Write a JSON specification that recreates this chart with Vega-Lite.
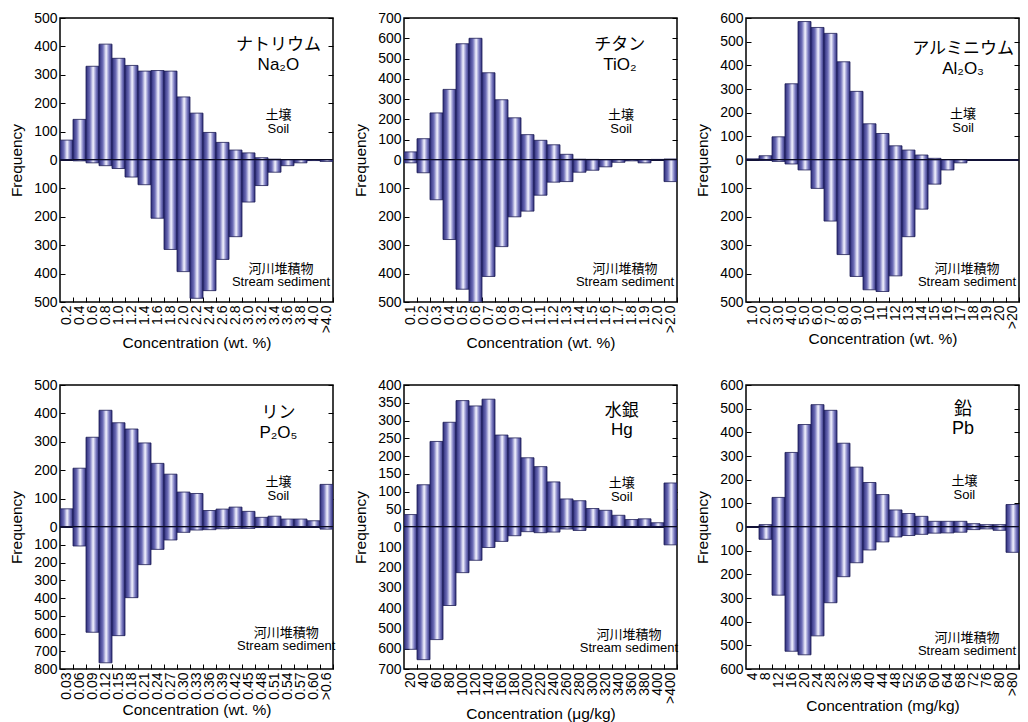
{
"$schema": "https://vega.github.io/schema/vega-lite/v6.json",
"padding": {"left": 8, "top": 10, "right": 0, "bottom": 0},
"config": {
  "font": "Liberation Sans",
  "view": {"stroke": "black", "strokeWidth": 1.5},
  "axis": {"domain": false, "grid": false, "ticks": true, "tickSize": -5, "tickColor": "black", "tickWidth": 1, "labelPadding": 8, "labelFontSize": 14, "labelColor": "black", "labelFont": "Liberation Sans", "titleFont": "Liberation Sans", "titleFontSize": 15.5, "titleFontWeight": "normal", "titleColor": "black", "labelOverlap": false},
  "axisY": {"titlePadding": 9},
  "axisX": {"titlePadding": 3}
},
"datasets": {
  "na": [
    {"bin":"0.2","soil":70,"sed":0},{"bin":"0.4","soil":143,"sed":3},{"bin":"0.6","soil":330,"sed":10},{"bin":"0.8","soil":408,"sed":20},{"bin":"1.0","soil":358,"sed":30},{"bin":"1.2","soil":333,"sed":60},{"bin":"1.4","soil":313,"sed":87},{"bin":"1.6","soil":315,"sed":205},{"bin":"1.8","soil":313,"sed":315},{"bin":"2.0","soil":222,"sed":393},{"bin":"2.2","soil":165,"sed":487},{"bin":"2.4","soil":97,"sed":460},{"bin":"2.6","soil":62,"sed":350},{"bin":"2.8","soil":35,"sed":270},{"bin":"3.0","soil":25,"sed":148},{"bin":"3.2","soil":8,"sed":90},{"bin":"3.4","soil":3,"sed":43},{"bin":"3.6","soil":1,"sed":20},{"bin":"3.8","soil":0,"sed":10},{"bin":"4.0","soil":0,"sed":2},{"bin":">4.0","soil":0,"sed":5}
  ],
  "ti": [
    {"bin":"0.1","soil":40,"sed":10},{"bin":"0.2","soil":105,"sed":45},{"bin":"0.3","soil":232,"sed":140},{"bin":"0.4","soil":348,"sed":280},{"bin":"0.5","soil":573,"sed":455},{"bin":"0.6","soil":600,"sed":500},{"bin":"0.7","soil":430,"sed":410},{"bin":"0.8","soil":297,"sed":305},{"bin":"0.9","soil":208,"sed":200},{"bin":"1.0","soil":125,"sed":180},{"bin":"1.1","soil":97,"sed":124},{"bin":"1.2","soil":75,"sed":78},{"bin":"1.3","soil":28,"sed":76},{"bin":"1.4","soil":4,"sed":43},{"bin":"1.5","soil":3,"sed":36},{"bin":"1.6","soil":2,"sed":24},{"bin":"1.7","soil":2,"sed":8},{"bin":"1.8","soil":2,"sed":3},{"bin":"1.9","soil":0,"sed":10},{"bin":"2.0","soil":3,"sed":0},{"bin":">2.0","soil":5,"sed":76}
  ],
  "al": [
    {"bin":"1.0","soil":5,"sed":0},{"bin":"2.0","soil":18,"sed":1},{"bin":"3.0","soil":98,"sed":5},{"bin":"4.0","soil":322,"sed":14},{"bin":"5.0","soil":585,"sed":35},{"bin":"6.0","soil":560,"sed":100},{"bin":"7.0","soil":535,"sed":215},{"bin":"8.0","soil":415,"sed":333},{"bin":"9.0","soil":290,"sed":410},{"bin":"10","soil":153,"sed":457},{"bin":"11","soil":112,"sed":463},{"bin":"12","soil":60,"sed":408},{"bin":"13","soil":42,"sed":270},{"bin":"14","soil":21,"sed":173},{"bin":"15","soil":7,"sed":85},{"bin":"16","soil":1,"sed":35},{"bin":"17","soil":0,"sed":10},{"bin":"18","soil":0,"sed":0},{"bin":"19","soil":0,"sed":0},{"bin":"20","soil":0,"sed":0},{"bin":">20","soil":0,"sed":0}
  ],
  "p": [
    {"bin":"0.03","soil":64,"sed":0},{"bin":"0.06","soil":207,"sed":107},{"bin":"0.09","soil":316,"sed":593},{"bin":"0.12","soil":411,"sed":765},{"bin":"0.15","soil":367,"sed":612},{"bin":"0.18","soil":345,"sed":398},{"bin":"0.21","soil":296,"sed":212},{"bin":"0.24","soil":224,"sed":126},{"bin":"0.27","soil":186,"sed":73},{"bin":"0.30","soil":123,"sed":30},{"bin":"0.33","soil":118,"sed":17},{"bin":"0.36","soil":58,"sed":15},{"bin":"0.39","soil":63,"sed":10},{"bin":"0.42","soil":70,"sed":8},{"bin":"0.45","soil":55,"sed":8},{"bin":"0.48","soil":34,"sed":3},{"bin":"0.51","soil":38,"sed":0},{"bin":"0.54","soil":28,"sed":0},{"bin":"0.57","soil":28,"sed":0},{"bin":"0.60","soil":22,"sed":0},{"bin":">0.6","soil":150,"sed":12}
  ],
  "hg": [
    {"bin":"20","soil":35,"sed":603},{"bin":"40","soil":119,"sed":654},{"bin":"60","soil":241,"sed":555},{"bin":"80","soil":295,"sed":387},{"bin":"100","soil":356,"sed":225},{"bin":"120","soil":341,"sed":164},{"bin":"140","soil":360,"sed":101},{"bin":"160","soil":259,"sed":71},{"bin":"180","soil":251,"sed":43},{"bin":"200","soil":195,"sed":23},{"bin":"220","soil":170,"sed":28},{"bin":"240","soil":127,"sed":25},{"bin":"260","soil":79,"sed":10},{"bin":"280","soil":74,"sed":17},{"bin":"300","soil":52,"sed":2},{"bin":"320","soil":47,"sed":0},{"bin":"340","soil":33,"sed":0},{"bin":"360","soil":21,"sed":0},{"bin":"380","soil":23,"sed":0},{"bin":"400","soil":12,"sed":0},{"bin":">400","soil":124,"sed":88}
  ],
  "pb": [
    {"bin":"4","soil":0,"sed":0},{"bin":"8","soil":10,"sed":52},{"bin":"12","soil":125,"sed":288},{"bin":"16","soil":315,"sed":525},{"bin":"20","soil":433,"sed":540},{"bin":"24","soil":517,"sed":460},{"bin":"28","soil":493,"sed":320},{"bin":"32","soil":354,"sed":210},{"bin":"36","soil":253,"sed":151},{"bin":"40","soil":188,"sed":97},{"bin":"44","soil":137,"sed":63},{"bin":"48","soil":72,"sed":42},{"bin":"52","soil":57,"sed":36},{"bin":"56","soil":45,"sed":31},{"bin":"60","soil":24,"sed":26},{"bin":"64","soil":24,"sed":25},{"bin":"68","soil":24,"sed":22},{"bin":"72","soil":14,"sed":11},{"bin":"76","soil":10,"sed":8},{"bin":"80","soil":10,"sed":14},{"bin":">80","soil":95,"sed":107}
  ]
},
"columns": 3,
"spacing": {"row": 25, "column": 15},
"concat": [
{
 "width": 273, "height": 284,
 "data": {"name": "na"},
 "layer": [
  {"layer": [
    {"mark": {"type":"bar","clip":true,"stroke":"#1d1d55","strokeWidth":0.8,"fill":{"gradient":"linear","x1":0,"y1":0,"x2":1,"y2":0,"stops":[{"offset":0,"color":"#2b2b78"},{"offset":0.3,"color":"#6e6eb8"},{"offset":0.55,"color":"#f4f4ff"},{"offset":0.78,"color":"#7c7cc2"},{"offset":1,"color":"#2b2b78"}]}},
     "encoding": {
       "x": {"field":"bin","type":"nominal","scale":{"domain":["0.2","0.4","0.6","0.8","1.0","1.2","1.4","1.6","1.8","2.0","2.2","2.4","2.6","2.8","3.0","3.2","3.4","3.6","3.8","4.0",">4.0"],"paddingInner":0,"paddingOuter":0},"axis":{"orient":"top","labels":false,"title":null,"bandPosition":1}},
       "y": {"field":"soil","type":"quantitative","scale":{"domain":[-500,500],"nice":false},"axis":{"orient":"left","values":[0,100,200,300,400,500],"title":"Frequency"}}
     }},
    {"data":{"values":[{}]},"mark":{"type":"rule","color":"black","strokeWidth":2},
     "encoding":{"y":{"datum":0,"type":"quantitative","axis":{"orient":"right","labels":false,"title":null,"values":[100,200,300,400,500]}}}},
    {"data":{"values":[{}]},"mark":{"type":"text","text":["ナトリウム","Na₂O"],"fontSize":17,"lineHeight":20,"font":"Liberation Sans, Noto Sans CJK JP, DejaVu Sans","baseline":"middle","align":"center","color":"black"},
     "encoding":{"x":{"datum":"3.4","type":"nominal","bandPosition":0.8,"axis":null},"y":{"datum":405,"type":"quantitative","axis":null}}},
    {"data":{"values":[{}]},"mark":{"type":"text","text":["土壌","Soil"],"fontSize":13,"lineHeight":14,"font":"Liberation Sans, Noto Sans CJK JP","baseline":"middle","align":"center","color":"black"},
     "encoding":{"x":{"datum":"3.4","type":"nominal","bandPosition":0.8,"axis":null},"y":{"datum":158,"type":"quantitative","axis":null}}},
    {"data":{"values":[{}]},"mark":{"type":"text","text":["河川堆積物","Stream sediment"],"fontSize":13,"lineHeight":13,"font":"Liberation Sans, Noto Sans CJK JP","baseline":"middle","align":"center","color":"black"},
     "encoding":{"x":{"datum":"3.4","type":"nominal","bandPosition":1,"axis":null},"y":{"datum":-384,"type":"quantitative","axis":null}}}
   ],
   "resolve": {"axis": {"y":"independent"}}
  },
  {"mark": {"type":"bar","clip":true,"stroke":"#1d1d55","strokeWidth":0.8,"fill":{"gradient":"linear","x1":0,"y1":0,"x2":1,"y2":0,"stops":[{"offset":0,"color":"#2b2b78"},{"offset":0.3,"color":"#6e6eb8"},{"offset":0.55,"color":"#f4f4ff"},{"offset":0.78,"color":"#7c7cc2"},{"offset":1,"color":"#2b2b78"}]}},
   "encoding": {
     "x": {"field":"bin","type":"nominal","axis":{"orient":"bottom","labelAngle":-90,"bandPosition":1,"title":"Concentration (wt. %)"}},
     "y": {"field":"sed","type":"quantitative","scale":{"domain":[-500,500],"nice":false,"reverse":true},"axis":{"orient":"left","values":[100,200,300,400,500],"title":null}}
   }}
 ],
 "resolve": {"scale":{"y":"independent"},"axis":{"x":"independent"}}
},
{
 "width": 273, "height": 284,
 "data": {"name": "ti"},
 "layer": [
  {"layer": [
    {"mark": {"type":"bar","clip":true,"stroke":"#1d1d55","strokeWidth":0.8,"fill":{"gradient":"linear","x1":0,"y1":0,"x2":1,"y2":0,"stops":[{"offset":0,"color":"#2b2b78"},{"offset":0.3,"color":"#6e6eb8"},{"offset":0.55,"color":"#f4f4ff"},{"offset":0.78,"color":"#7c7cc2"},{"offset":1,"color":"#2b2b78"}]}},
     "encoding": {
       "x": {"field":"bin","type":"nominal","scale":{"domain":["0.1","0.2","0.3","0.4","0.5","0.6","0.7","0.8","0.9","1.0","1.1","1.2","1.3","1.4","1.5","1.6","1.7","1.8","1.9","2.0",">2.0"],"paddingInner":0,"paddingOuter":0},"axis":{"orient":"top","labels":false,"title":null,"bandPosition":1}},
       "y": {"field":"soil","type":"quantitative","scale":{"domain":[-700,700],"nice":false},"axis":{"orient":"left","values":[0,100,200,300,400,500,600,700],"title":"Frequency"}}
     }},
    {"data":{"values":[{}]},"mark":{"type":"rule","color":"black","strokeWidth":2},
     "encoding":{"y":{"datum":0,"type":"quantitative","axis":{"orient":"right","labels":false,"title":null,"values":[100,200,300,400,500,600,700]}}}},
    {"data":{"values":[{}]},"mark":{"type":"text","text":["チタン","TiO₂"],"fontSize":17,"lineHeight":20,"font":"Liberation Sans, Noto Sans CJK JP, DejaVu Sans","baseline":"middle","align":"center","color":"black"},
     "encoding":{"x":{"datum":"1.7","type":"nominal","bandPosition":0.6,"axis":null},"y":{"datum":567,"type":"quantitative","axis":null}}},
    {"data":{"values":[{}]},"mark":{"type":"text","text":["土壌","Soil"],"fontSize":13,"lineHeight":14,"font":"Liberation Sans, Noto Sans CJK JP","baseline":"middle","align":"center","color":"black"},
     "encoding":{"x":{"datum":"1.7","type":"nominal","bandPosition":0.7,"axis":null},"y":{"datum":222,"type":"quantitative","axis":null}}},
    {"data":{"values":[{}]},"mark":{"type":"text","text":["河川堆積物","Stream sediment"],"fontSize":13,"lineHeight":13,"font":"Liberation Sans, Noto Sans CJK JP","baseline":"middle","align":"center","color":"black"},
     "encoding":{"x":{"datum":"1.7","type":"nominal","bandPosition":1,"axis":null},"y":{"datum":-537,"type":"quantitative","axis":null}}}
   ],
   "resolve": {"axis": {"y":"independent"}}
  },
  {"mark": {"type":"bar","clip":true,"stroke":"#1d1d55","strokeWidth":0.8,"fill":{"gradient":"linear","x1":0,"y1":0,"x2":1,"y2":0,"stops":[{"offset":0,"color":"#2b2b78"},{"offset":0.3,"color":"#6e6eb8"},{"offset":0.55,"color":"#f4f4ff"},{"offset":0.78,"color":"#7c7cc2"},{"offset":1,"color":"#2b2b78"}]}},
   "encoding": {
     "x": {"field":"bin","type":"nominal","axis":{"orient":"bottom","labelAngle":-90,"bandPosition":1,"title":"Concentration (wt. %)"}},
     "y": {"field":"sed","type":"quantitative","scale":{"domain":[-500,500],"nice":false,"reverse":true},"axis":{"orient":"left","values":[100,200,300,400,500],"title":null}}
   }}
 ],
 "resolve": {"scale":{"y":"independent"},"axis":{"x":"independent"}}
},
{
 "width": 273, "height": 284,
 "data": {"name": "al"},
 "layer": [
  {"layer": [
    {"mark": {"type":"bar","clip":true,"stroke":"#1d1d55","strokeWidth":0.8,"fill":{"gradient":"linear","x1":0,"y1":0,"x2":1,"y2":0,"stops":[{"offset":0,"color":"#2b2b78"},{"offset":0.3,"color":"#6e6eb8"},{"offset":0.55,"color":"#f4f4ff"},{"offset":0.78,"color":"#7c7cc2"},{"offset":1,"color":"#2b2b78"}]}},
     "encoding": {
       "x": {"field":"bin","type":"nominal","scale":{"domain":["1.0","2.0","3.0","4.0","5.0","6.0","7.0","8.0","9.0","10","11","12","13","14","15","16","17","18","19","20",">20"],"paddingInner":0,"paddingOuter":0},"axis":{"orient":"top","labels":false,"title":null,"bandPosition":1}},
       "y": {"field":"soil","type":"quantitative","scale":{"domain":[-600,600],"nice":false},"axis":{"orient":"left","values":[0,100,200,300,400,500,600],"title":"Frequency"}}
     }},
    {"data":{"values":[{}]},"mark":{"type":"rule","color":"black","strokeWidth":2},
     "encoding":{"y":{"datum":0,"type":"quantitative","axis":{"orient":"right","labels":false,"title":null,"values":[100,200,300,400,500,600]}}}},
    {"data":{"values":[{}]},"mark":{"type":"text","text":["アルミニウム","Al₂O₃"],"fontSize":17,"lineHeight":20,"font":"Liberation Sans, Noto Sans CJK JP, DejaVu Sans","baseline":"middle","align":"center","color":"black"},
     "encoding":{"x":{"datum":"17","type":"nominal","bandPosition":0.7,"axis":null},"y":{"datum":468,"type":"quantitative","axis":null}}},
    {"data":{"values":[{}]},"mark":{"type":"text","text":["土壌","Soil"],"fontSize":13,"lineHeight":14,"font":"Liberation Sans, Noto Sans CJK JP","baseline":"middle","align":"center","color":"black"},
     "encoding":{"x":{"datum":"17","type":"nominal","bandPosition":0.7,"axis":null},"y":{"datum":193,"type":"quantitative","axis":null}}},
    {"data":{"values":[{}]},"mark":{"type":"text","text":["河川堆積物","Stream sediment"],"fontSize":13,"lineHeight":13,"font":"Liberation Sans, Noto Sans CJK JP","baseline":"middle","align":"center","color":"black"},
     "encoding":{"x":{"datum":"17","type":"nominal","bandPosition":1,"axis":null},"y":{"datum":-462,"type":"quantitative","axis":null}}}
   ],
   "resolve": {"axis": {"y":"independent"}}
  },
  {"mark": {"type":"bar","clip":true,"stroke":"#1d1d55","strokeWidth":0.8,"fill":{"gradient":"linear","x1":0,"y1":0,"x2":1,"y2":0,"stops":[{"offset":0,"color":"#2b2b78"},{"offset":0.3,"color":"#6e6eb8"},{"offset":0.55,"color":"#f4f4ff"},{"offset":0.78,"color":"#7c7cc2"},{"offset":1,"color":"#2b2b78"}]}},
   "encoding": {
     "x": {"field":"bin","type":"nominal","axis":{"orient":"bottom","labelAngle":-90,"bandPosition":1,"title":"Concentration (wt. %)"}},
     "y": {"field":"sed","type":"quantitative","scale":{"domain":[-500,500],"nice":false,"reverse":true},"axis":{"orient":"left","values":[100,200,300,400,500],"title":null}}
   }}
 ],
 "resolve": {"scale":{"y":"independent"},"axis":{"x":"independent"}}
},
{
 "width": 273, "height": 284,
 "data": {"name": "p"},
 "layer": [
  {"layer": [
    {"mark": {"type":"bar","clip":true,"stroke":"#1d1d55","strokeWidth":0.8,"fill":{"gradient":"linear","x1":0,"y1":0,"x2":1,"y2":0,"stops":[{"offset":0,"color":"#2b2b78"},{"offset":0.3,"color":"#6e6eb8"},{"offset":0.55,"color":"#f4f4ff"},{"offset":0.78,"color":"#7c7cc2"},{"offset":1,"color":"#2b2b78"}]}},
     "encoding": {
       "x": {"field":"bin","type":"nominal","scale":{"domain":["0.03","0.06","0.09","0.12","0.15","0.18","0.21","0.24","0.27","0.30","0.33","0.36","0.39","0.42","0.45","0.48","0.51","0.54","0.57","0.60",">0.6"],"paddingInner":0,"paddingOuter":0},"axis":{"orient":"top","labels":false,"title":null,"bandPosition":1}},
       "y": {"field":"soil","type":"quantitative","scale":{"domain":[-500,500],"nice":false},"axis":{"orient":"left","values":[0,100,200,300,400,500],"title":"Frequency"}}
     }},
    {"data":{"values":[{}]},"mark":{"type":"rule","color":"black","strokeWidth":2},
     "encoding":{"y":{"datum":0,"type":"quantitative","axis":{"orient":"right","labels":false,"title":null,"values":[100,200,300,400,500]}}}},
    {"data":{"values":[{}]},"mark":{"type":"text","text":["リン","P₂O₅"],"fontSize":17,"lineHeight":20,"font":"Liberation Sans, Noto Sans CJK JP, DejaVu Sans","baseline":"middle","align":"center","color":"black"},
     "encoding":{"x":{"datum":"0.51","type":"nominal","bandPosition":0.8,"axis":null},"y":{"datum":401,"type":"quantitative","axis":null}}},
    {"data":{"values":[{}]},"mark":{"type":"text","text":["土壌","Soil"],"fontSize":13,"lineHeight":14,"font":"Liberation Sans, Noto Sans CJK JP","baseline":"middle","align":"center","color":"black"},
     "encoding":{"x":{"datum":"0.51","type":"nominal","bandPosition":0.8,"axis":null},"y":{"datum":160,"type":"quantitative","axis":null}}},
    {"data":{"values":[{}]},"mark":{"type":"text","text":["河川堆積物","Stream sediment"],"fontSize":13,"lineHeight":13,"font":"Liberation Sans, Noto Sans CJK JP","baseline":"middle","align":"center","color":"black"},
     "encoding":{"x":{"datum":"0.54","type":"nominal","bandPosition":0.4,"axis":null},"y":{"datum":-373,"type":"quantitative","axis":null}}}
   ],
   "resolve": {"axis": {"y":"independent"}}
  },
  {"mark": {"type":"bar","clip":true,"stroke":"#1d1d55","strokeWidth":0.8,"fill":{"gradient":"linear","x1":0,"y1":0,"x2":1,"y2":0,"stops":[{"offset":0,"color":"#2b2b78"},{"offset":0.3,"color":"#6e6eb8"},{"offset":0.55,"color":"#f4f4ff"},{"offset":0.78,"color":"#7c7cc2"},{"offset":1,"color":"#2b2b78"}]}},
   "encoding": {
     "x": {"field":"bin","type":"nominal","axis":{"orient":"bottom","labelAngle":-90,"bandPosition":1,"title":"Concentration (wt. %)"}},
     "y": {"field":"sed","type":"quantitative","scale":{"domain":[-800,800],"nice":false,"reverse":true},"axis":{"orient":"left","values":[100,200,300,400,500,600,700,800],"title":null}}
   }}
 ],
 "resolve": {"scale":{"y":"independent"},"axis":{"x":"independent"}}
},
{
 "width": 273, "height": 284,
 "data": {"name": "hg"},
 "layer": [
  {"layer": [
    {"mark": {"type":"bar","clip":true,"stroke":"#1d1d55","strokeWidth":0.8,"fill":{"gradient":"linear","x1":0,"y1":0,"x2":1,"y2":0,"stops":[{"offset":0,"color":"#2b2b78"},{"offset":0.3,"color":"#6e6eb8"},{"offset":0.55,"color":"#f4f4ff"},{"offset":0.78,"color":"#7c7cc2"},{"offset":1,"color":"#2b2b78"}]}},
     "encoding": {
       "x": {"field":"bin","type":"nominal","scale":{"domain":["20","40","60","80","100","120","140","160","180","200","220","240","260","280","300","320","340","360","380","400",">400"],"paddingInner":0,"paddingOuter":0},"axis":{"orient":"top","labels":false,"title":null,"bandPosition":1}},
       "y": {"field":"soil","type":"quantitative","scale":{"domain":[-400,400],"nice":false},"axis":{"orient":"left","values":[0,50,100,150,200,250,300,350,400],"title":"Frequency"}}
     }},
    {"data":{"values":[{}]},"mark":{"type":"rule","color":"black","strokeWidth":2},
     "encoding":{"y":{"datum":0,"type":"quantitative","axis":{"orient":"right","labels":false,"title":null,"values":[50,100,150,200,250,300,350,400]}}}},
    {"data":{"values":[{}]},"mark":{"type":"text","text":["水銀","Hg"],"fontSize":17,"lineHeight":19,"font":"Liberation Sans, Noto Sans CJK JP, DejaVu Sans","baseline":"middle","align":"center","color":"black"},
     "encoding":{"x":{"datum":"340","type":"nominal","bandPosition":0.75,"axis":null},"y":{"datum":326,"type":"quantitative","axis":null}}},
    {"data":{"values":[{}]},"mark":{"type":"text","text":["土壌","Soil"],"fontSize":13,"lineHeight":14,"font":"Liberation Sans, Noto Sans CJK JP","baseline":"middle","align":"center","color":"black"},
     "encoding":{"x":{"datum":"340","type":"nominal","bandPosition":0.75,"axis":null},"y":{"datum":124,"type":"quantitative","axis":null}}},
    {"data":{"values":[{}]},"mark":{"type":"text","text":["河川堆積物","Stream sediment"],"fontSize":13,"lineHeight":13,"font":"Liberation Sans, Noto Sans CJK JP","baseline":"middle","align":"center","color":"black"},
     "encoding":{"x":{"datum":"360","type":"nominal","bandPosition":0.3,"axis":null},"y":{"datum":-303,"type":"quantitative","axis":null}}}
   ],
   "resolve": {"axis": {"y":"independent"}}
  },
  {"mark": {"type":"bar","clip":true,"stroke":"#1d1d55","strokeWidth":0.8,"fill":{"gradient":"linear","x1":0,"y1":0,"x2":1,"y2":0,"stops":[{"offset":0,"color":"#2b2b78"},{"offset":0.3,"color":"#6e6eb8"},{"offset":0.55,"color":"#f4f4ff"},{"offset":0.78,"color":"#7c7cc2"},{"offset":1,"color":"#2b2b78"}]}},
   "encoding": {
     "x": {"field":"bin","type":"nominal","axis":{"orient":"bottom","labelAngle":-90,"bandPosition":1,"title":"Concentration (μg/kg)"}},
     "y": {"field":"sed","type":"quantitative","scale":{"domain":[-700,700],"nice":false,"reverse":true},"axis":{"orient":"left","values":[100,200,300,400,500,600,700],"title":null}}
   }}
 ],
 "resolve": {"scale":{"y":"independent"},"axis":{"x":"independent"}}
},
{
 "width": 273, "height": 284,
 "data": {"name": "pb"},
 "layer": [
  {"layer": [
    {"mark": {"type":"bar","clip":true,"stroke":"#1d1d55","strokeWidth":0.8,"fill":{"gradient":"linear","x1":0,"y1":0,"x2":1,"y2":0,"stops":[{"offset":0,"color":"#2b2b78"},{"offset":0.3,"color":"#6e6eb8"},{"offset":0.55,"color":"#f4f4ff"},{"offset":0.78,"color":"#7c7cc2"},{"offset":1,"color":"#2b2b78"}]}},
     "encoding": {
       "x": {"field":"bin","type":"nominal","scale":{"domain":["4","8","12","16","20","24","28","32","36","40","44","48","52","56","60","64","68","72","76","80",">80"],"paddingInner":0,"paddingOuter":0},"axis":{"orient":"top","labels":false,"title":null,"bandPosition":1}},
       "y": {"field":"soil","type":"quantitative","scale":{"domain":[-600,600],"nice":false},"axis":{"orient":"left","values":[0,100,200,300,400,500,600],"title":"Frequency"}}
     }},
    {"data":{"values":[{}]},"mark":{"type":"rule","color":"black","strokeWidth":2},
     "encoding":{"y":{"datum":0,"type":"quantitative","axis":{"orient":"right","labels":false,"title":null,"values":[100,200,300,400,500,600]}}}},
    {"data":{"values":[{}]},"mark":{"type":"text","text":["鉛","Pb"],"fontSize":18,"lineHeight":19,"font":"Liberation Sans, Noto Sans CJK JP, DejaVu Sans","baseline":"middle","align":"center","color":"black"},
     "encoding":{"x":{"datum":"68","type":"nominal","bandPosition":0.7,"axis":null},"y":{"datum":496,"type":"quantitative","axis":null}}},
    {"data":{"values":[{}]},"mark":{"type":"text","text":["土壌","Soil"],"fontSize":13,"lineHeight":14,"font":"Liberation Sans, Noto Sans CJK JP","baseline":"middle","align":"center","color":"black"},
     "encoding":{"x":{"datum":"68","type":"nominal","bandPosition":0.8,"axis":null},"y":{"datum":193,"type":"quantitative","axis":null}}},
    {"data":{"values":[{}]},"mark":{"type":"text","text":["河川堆積物","Stream sediment"],"fontSize":13,"lineHeight":13,"font":"Liberation Sans, Noto Sans CJK JP","baseline":"middle","align":"center","color":"black"},
     "encoding":{"x":{"datum":"68","type":"nominal","bandPosition":1,"axis":null},"y":{"datum":-469,"type":"quantitative","axis":null}}}
   ],
   "resolve": {"axis": {"y":"independent"}}
  },
  {"mark": {"type":"bar","clip":true,"stroke":"#1d1d55","strokeWidth":0.8,"fill":{"gradient":"linear","x1":0,"y1":0,"x2":1,"y2":0,"stops":[{"offset":0,"color":"#2b2b78"},{"offset":0.3,"color":"#6e6eb8"},{"offset":0.55,"color":"#f4f4ff"},{"offset":0.78,"color":"#7c7cc2"},{"offset":1,"color":"#2b2b78"}]}},
   "encoding": {
     "x": {"field":"bin","type":"nominal","axis":{"orient":"bottom","labelAngle":-90,"bandPosition":1,"title":"Concentration (mg/kg)"}},
     "y": {"field":"sed","type":"quantitative","scale":{"domain":[-600,600],"nice":false,"reverse":true},"axis":{"orient":"left","values":[100,200,300,400,500,600],"title":null}}
   }}
 ],
 "resolve": {"scale":{"y":"independent"},"axis":{"x":"independent"}}
}
]
}
